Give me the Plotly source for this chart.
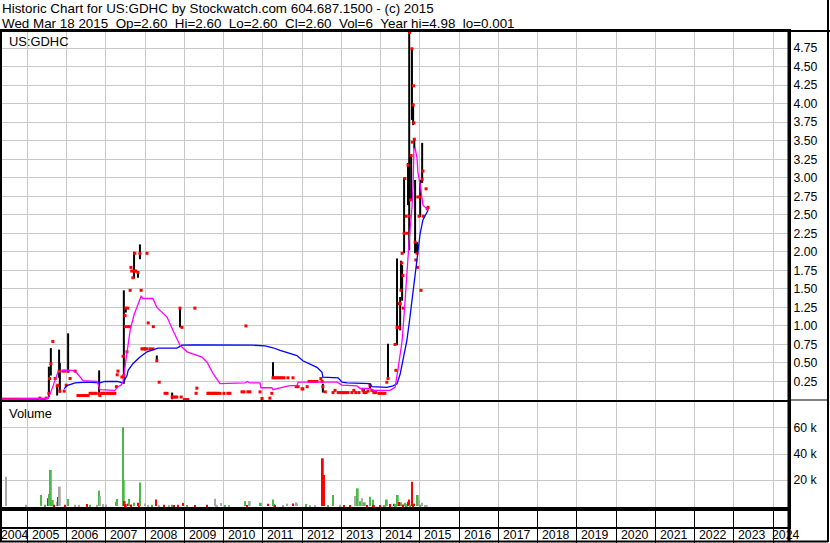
import plotly.graph_objects as go

# ---------------- data (x values are decimal years) ----------------
bar_year = [2005.55, 2005.60, 2005.76, 2005.81, 2005.83, 2006.04, 2006.83, 2007.46, 2007.51,
            2007.72, 2007.82, 2007.87, 2008.00, 2008.30, 2008.69, 2008.89, 2011.26, 2012.53,
            2013.58, 2013.73, 2014.19, 2014.42, 2014.50, 2014.52, 2014.55, 2014.60, 2014.70,
            2014.73, 2014.78, 2014.80, 2014.83, 2014.86, 2014.88, 2014.93, 2015.01, 2015.06]
bar_high = [0.45, 0.70, 0.19, 0.68, 0.50, 0.90, 0.40, 1.48, 1.25,
            2.00, 1.74, 2.10, 0.71, 0.60, 0.10, 1.25, 0.51, 0.22,
            0.15, 0.22, 0.76, 1.91, 1.39, 1.88, 1.82, 3.00, 3.20,
            4.98, 3.30, 4.75, 4.00, 3.52, 2.97, 2.13, 2.97, 3.47]
bar_low = [0.04, 0.33, 0.06, 0.30, 0.10, 0.37, 0.06, 0.22, 1.18,
           1.64, 1.65, 1.90, 0.67, 0.53, 0.01, 0.98, 0.29, 0.10,
           0.08, 0.15, 0.29, 0.74, 0.94, 1.48, 1.34, 1.98, 2.63,
           2.02, 2.70, 3.78, 3.71, 3.39, 1.98, 1.98, 2.47, 2.93]

close_year = [2004.36, 2004.41, 2004.46, 2004.51, 2004.56, 2004.61, 2004.66, 2004.71, 2004.76,
              2004.81, 2004.86, 2004.92, 2004.97, 2005.02, 2005.07, 2005.12, 2005.17, 2005.22,
              2005.27, 2005.32, 2005.37, 2005.43, 2005.48,
              2005.55, 2005.57, 2005.60, 2005.65, 2005.71, 2005.76, 2005.78, 2005.81, 2005.83,
              2005.91, 2005.94, 2005.96, 2005.99, 2006.04, 2006.09, 2006.22,
              2006.29, 2006.32, 2006.35, 2006.39, 2006.42, 2006.46, 2006.50, 2006.55, 2006.60,
              2006.65, 2006.70, 2006.75, 2006.83, 2006.85, 2006.90, 2006.93, 2006.97, 2007.03,
              2007.06, 2007.10, 2007.13, 2007.17, 2007.20, 2007.23,
              2007.27, 2007.29, 2007.31, 2007.41, 2007.44, 2007.46, 2007.49, 2007.50, 2007.51,
              2007.54, 2007.56, 2007.57, 2007.61, 2007.62, 2007.64, 2007.66, 2007.69, 2007.72,
              2007.74, 2007.76, 2007.82, 2007.87, 2007.90, 2007.92, 2007.95, 2008.00, 2008.05,
              2008.05, 2008.08, 2008.13, 2008.20, 2008.21, 2008.30, 2008.36, 2008.51, 2008.56,
              2008.69, 2008.71, 2008.76, 2008.81, 2008.89, 2008.92, 2008.94, 2009.00, 2009.05,
              2009.09, 2009.27, 2009.30, 2009.32,
              2009.60, 2009.63, 2009.66, 2009.71, 2009.74, 2009.78, 2009.81, 2009.86, 2009.91,
              2010.01, 2010.11, 2010.16,
              2010.47, 2010.52, 2010.57, 2010.62, 2010.67, 2010.93, 2010.98, 2011.18, 2011.23,
              2011.26, 2011.29, 2011.34, 2011.39, 2011.44, 2011.49, 2011.54, 2011.64, 2011.77,
              2011.85, 2011.90, 2012.00, 2012.02, 2012.13, 2012.18, 2012.23, 2012.28, 2012.33,
              2012.38, 2012.48, 2012.51, 2012.53, 2012.59, 2012.79, 2012.84, 2012.92, 2012.97,
              2013.02, 2013.07, 2013.12, 2013.17, 2013.27, 2013.32, 2013.37, 2013.45, 2013.55,
              2013.58, 2013.63, 2013.68, 2013.73, 2013.78, 2013.83, 2013.88, 2013.96, 2014.01,
              2014.06, 2014.11, 2014.16, 2014.19,
              2014.37, 2014.39, 2014.42, 2014.47, 2014.48, 2014.50, 2014.52, 2014.54, 2014.55,
              2014.57, 2014.58, 2014.60, 2014.62, 2014.65, 2014.67, 2014.70, 2014.73, 2014.74,
              2014.76, 2014.78, 2014.80, 2014.81, 2014.83, 2014.84, 2014.85, 2014.86, 2014.88,
              2014.90, 2014.93, 2014.94, 2014.95, 2014.98, 2015.01, 2015.03, 2015.06, 2015.08,
              2015.09, 2015.16, 2015.19, 2015.21]
close_price = [0.01, 0.01, 0.01, 0.01, 0.01, 0.01, 0.01, 0.01, 0.01,
               0.01, 0.01, 0.01, 0.01, 0.01, 0.01, 0.01, 0.01, 0.01,
               0.01, 0.025, 0.01, 0.01, 0.025,
               0.09, 0.29, 0.49, 0.79, 0.29, 0.19, 0.20, 0.39, 0.12,
               0.39, 0.12, 0.39, 0.20, 0.39, 0.29, 0.39,
               0.06, 0.06, 0.06, 0.06, 0.06, 0.06, 0.06, 0.06, 0.09,
               0.09, 0.09, 0.09, 0.09, 0.06, 0.09, 0.09, 0.09, 0.09,
               0.09, 0.09, 0.09, 0.09, 0.09, 0.09,
               0.18, 0.34, 0.39, 0.31, 0.59, 0.33, 1.14, 0.99, 1.24,
               0.65, 1.24, 0.99, 0.99, 1.48, 1.79, 1.74, 1.65, 1.74,
               1.98, 1.74, 1.72, 1.98, 1.48, 0.69, 0.69, 0.69, 1.98,
               0.69, 1.04, 0.69, 0.69, 0.99, 0.53, 0.24, 0.09, 0.09,
               0.04, 0.04, 0.04, 0.04, 1.24, 0.04, 0.98, 0.005, 0.005,
               0.005, 1.24, 0.09, 0.16,
               0.09, 0.09, 0.09, 0.09, 0.09, 0.09, 0.09, 0.09, 0.09,
               0.09, 0.09, 0.09,
               0.11, 0.11, 1.00, 0.11, 0.11, 0.11, 0.02, 0.025, 0.09,
               0.30, 0.30, 0.30, 0.30, 0.30, 0.30, 0.30, 0.30, 0.30,
               0.18, 0.18, 0.15, 0.15, 0.18, 0.25, 0.25, 0.25, 0.25,
               0.25, 0.29, 0.25, 0.18, 0.11, 0.10, 0.13, 0.10, 0.10,
               0.10, 0.10, 0.10, 0.10, 0.10, 0.13, 0.10, 0.10, 0.13,
               0.10, 0.10, 0.12, 0.20, 0.13, 0.10, 0.10, 0.09, 0.09,
               0.09, 0.09, 0.24, 0.29,
               0.75, 0.40, 0.98, 0.98, 1.30, 1.30, 1.48, 1.85, 1.98,
               1.68, 1.24, 2.25, 2.99, 2.48, 2.25, 3.17, 2.48, 4.96,
               2.70, 3.30, 4.74, 3.48, 3.98, 4.24, 3.74, 3.52, 2.13,
               1.89, 1.98, 1.79, 2.74, 2.48, 2.74, 1.48, 2.98, 3.09,
               2.48, 2.85, 2.58, 2.60]

ma_short_year = [2004.36, 2005.48, 2005.53, 2005.63, 2005.71, 2005.78, 2005.91, 2006.16, 2006.27,
                 2006.42, 2006.78, 2006.85, 2007.23, 2007.31, 2007.39, 2007.44, 2007.49, 2007.57,
                 2007.62, 2007.72, 2007.79, 2007.90, 2007.95, 2008.20, 2008.30, 2008.43, 2008.56,
                 2008.71, 2008.81, 2008.89, 2009.07, 2009.32, 2009.45, 2009.58, 2009.73, 2009.91,
                 2010.55, 2010.60, 2010.67, 2010.93, 2010.95, 2011.23, 2011.26, 2011.44, 2011.69,
                 2011.87, 2011.90, 2012.89, 2013.02, 2013.40, 2013.48, 2013.73, 2013.81, 2014.24,
                 2014.37, 2014.44, 2014.55, 2014.62, 2014.67, 2014.73, 2014.80, 2014.83, 2014.85,
                 2014.88, 2014.93, 2014.95, 2015.01, 2015.06, 2015.08, 2015.18, 2015.21]
ma_short = [0.01, 0.01, 0.02, 0.15, 0.28, 0.375, 0.40, 0.40, 0.36,
            0.26, 0.25, 0.14, 0.13, 0.18, 0.20, 0.25, 0.45, 0.75,
            0.94, 1.15, 1.25, 1.40, 1.37, 1.37, 1.25, 1.18, 1.12,
            0.94, 0.83, 0.74, 0.65, 0.60, 0.58, 0.51, 0.36, 0.22,
            0.23, 0.25, 0.23, 0.23, 0.165, 0.165, 0.14, 0.165, 0.195,
            0.195, 0.24, 0.24, 0.20, 0.19, 0.155, 0.155, 0.13, 0.13,
            0.17, 0.40, 0.80, 1.30, 1.71, 2.16, 2.60, 2.90, 3.39,
            3.40, 3.26, 3.08, 2.90, 2.72, 2.63, 2.58, 2.56]

ma_long_year = [2005.94, 2006.01, 2006.22, 2006.52, 2006.85, 2006.98, 2007.29, 2007.44, 2007.54,
                2007.57, 2007.69, 2007.87, 2008.05, 2008.20, 2008.33, 2008.81, 2008.94, 2009.22,
                2010.50, 2010.55, 2010.67, 2010.73, 2011.06, 2011.26, 2011.44, 2011.64, 2011.87,
                2012.02, 2012.20, 2012.38, 2012.51, 2012.53, 2012.92, 2013.02, 2013.15, 2013.73,
                2013.78, 2014.16, 2014.32, 2014.42, 2014.50, 2014.57, 2014.67, 2014.75, 2014.83,
                2014.93, 2015.01, 2015.08, 2015.21]
ma_long = [0.15, 0.195, 0.23, 0.24, 0.23, 0.25, 0.25, 0.23, 0.33,
           0.40, 0.49, 0.58, 0.65, 0.68, 0.70, 0.70, 0.74, 0.745,
           0.745, 0.75, 0.75, 0.74, 0.73, 0.705, 0.67, 0.64, 0.60,
           0.53, 0.49, 0.44, 0.375, 0.31, 0.30, 0.24, 0.23, 0.22,
           0.18, 0.17, 0.19, 0.22, 0.35, 0.53, 0.80, 1.12, 1.48,
           1.93, 2.25, 2.43, 2.56]

vol_year = [2004.46, 2004.97, 2005.35, 2005.45, 2005.54, 2005.56, 2005.60, 2005.65, 2005.68,
            2005.76, 2005.78, 2005.83, 2005.96, 2006.04, 2006.22, 2006.32, 2006.52, 2006.60,
            2006.78, 2006.83, 2006.85, 2006.93, 2007.01, 2007.26, 2007.29, 2007.44, 2007.46,
            2007.48, 2007.51, 2007.57, 2007.59, 2007.64, 2007.72, 2007.82, 2007.85, 2007.87,
            2008.00, 2008.08, 2008.18, 2008.28, 2008.36, 2008.48, 2008.61, 2008.69, 2008.74,
            2008.84, 2008.97, 2009.07, 2009.27, 2009.58, 2009.78, 2009.83, 2009.94, 2010.04,
            2010.14, 2010.55, 2010.60, 2010.67, 2010.95, 2011.13, 2011.26, 2011.29, 2011.31,
            2011.52, 2011.62, 2011.77, 2011.85, 2011.87, 2012.10, 2012.20, 2012.33, 2012.53,
            2012.56, 2012.66, 2012.79, 2012.97, 2013.07, 2013.22, 2013.37, 2013.42, 2013.48,
            2013.53, 2013.60, 2013.66, 2013.73, 2013.81, 2013.83, 2013.99, 2014.11, 2014.16,
            2014.24, 2014.34, 2014.39, 2014.44, 2014.47, 2014.52, 2014.57, 2014.62, 2014.67,
            2014.70, 2014.73, 2014.75, 2014.80, 2014.83, 2014.85, 2014.95, 2014.98, 2015.01,
            2015.06, 2015.14, 2015.18]
vol_value = [22500, 1000, 8500, 1000, 6000, 9200, 27700, 4600, 1000,
             3300, 7000, 14900, 1000, 5400, 1000, 1000, 1500, 1000,
             1000, 11800, 7700, 1500, 1200, 3300, 5400, 60500, 20000,
             3800, 1500, 1800, 5400, 1200, 2500, 2500, 1000, 18000,
             2000, 800, 1000, 5100, 800, 1000, 800, 1000, 800,
             1000, 2300, 800, 600, 1000, 5600, 1000, 2300, 800,
             600, 3800, 800, 3800, 2500, 1800, 5000, 1500, 800,
             600, 1800, 2000, 2800, 2000, 1500, 800, 600, 36700,
             23800, 800, 8500, 1000, 600, 800, 7700, 13600, 3600,
             5900, 2800, 800, 7200, 4800, 800, 600, 800, 5000,
             1500, 1800, 1500, 8500, 3000, 2800, 1200, 2500, 1500,
             3300, 5000, 1200, 18700, 1500, 1800, 8500, 5000, 1000,
             2500, 800, 800]
vol_dir = ['n', 'n', 'g', 'g', 'r', 'g', 'g', 'g', 'r',
           'n', 'r', 'n', 'r', 'g', 'n', 'n', 'r', 'g',
           'n', 'g', 'n', 'n', 'n', 'g', 'g', 'g', 'g',
           'r', 'r', 'r', 'g', 'r', 'g', 'r', 'r', 'g',
           'n', 'n', 'g', 'r', 'n', 'r', 'n', 'g', 'r',
           'r', 'r', 'g', 'r', 'r', 'n', 'n', 'n', 'g',
           'n', 'g', 'r', 'n', 'g', 'r', 'g', 'g', 'r',
           'n', 'n', 'r', 'n', 'n', 'g', 'n', 'n', 'r',
           'r', 'g', 'g', 'n', 'r', 'r', 'n', 'g', 'g',
           'n', 'g', 'r', 'g', 'g', 'r', 'r', 'g', 'g',
           'r', 'r', 'g', 'g', 'r', 'g', 'r', 'g', 'g',
           'r', 'r', 'g', 'r', 'r', 'r', 'g', 'n', 'g',
           'n', 'n', 'n']

year_labels = [str(y) for y in range(2004, 2025)]
year_label_pos = [2004.3555, 2005.09, 2006.09, 2007.09, 2008.09, 2009.09, 2010.09, 2011.09,
                  2012.09, 2013.09, 2014.09, 2015.09, 2016.09, 2017.09, 2018.09, 2019.09,
                  2020.09, 2021.09, 2022.09, 2023.09, 2023.94]
price_ticks = [0.25, 0.5, 0.75, 1.0, 1.25, 1.5, 1.75, 2.0, 2.25, 2.5, 2.75, 3.0, 3.25, 3.5,
               3.75, 4.0, 4.25, 4.5, 4.75]
vol_ticks = [20000, 40000, 60000]
vol_tick_text = ['20 k', '40 k', '60 k']

title1 = "Historic Chart for US:GDHC by Stockwatch.com 604.687.1500 - (c) 2015"
title2 = ("Wed Mar 18 2015 \u00a0Op=2.60 \u00a0Hi=2.60 \u00a0Lo=2.60 \u00a0Cl=2.60 \u00a0Vol=6 "
          "\u00a0Year hi=4.98 \u00a0lo=0.001")

# ---------------- styling ----------------
FONT = "Liberation Sans, Arial, sans-serif"
GRID = "#c8c8c8"
DIR_COLORS = {'g': '#4cb848', 'r': '#ff0000', 'n': '#a8a8a8'}
X_RANGE = [2004.3555, 2024.4065]

fig = go.Figure()

fig.add_trace(go.Ohlc(
    x=bar_year, open=bar_low, high=bar_high, low=bar_low, close=bar_high,
    increasing=dict(line=dict(color='black', width=2)),
    decreasing=dict(line=dict(color='black', width=2)),
    tickwidth=0, xaxis='x', yaxis='y', hoverinfo='skip', showlegend=False))

fig.add_trace(go.Scatter(
    x=close_year, y=close_price, mode='markers',
    marker=dict(symbol='square', size=3, color='#ff0000', line=dict(width=0)),
    xaxis='x', yaxis='y', hoverinfo='skip', showlegend=False))

fig.add_trace(go.Scatter(
    x=ma_long_year, y=ma_long, mode='lines', line=dict(color='#0000ff', width=1.3),
    xaxis='x', yaxis='y', hoverinfo='skip', showlegend=False))

fig.add_trace(go.Scatter(
    x=ma_short_year, y=ma_short, mode='lines', line=dict(color='#ff00ff', width=1.3),
    xaxis='x', yaxis='y', hoverinfo='skip', showlegend=False))

fig.add_trace(go.Bar(
    x=vol_year, y=vol_value, width=0.045,
    marker=dict(color=[DIR_COLORS[d] for d in vol_dir], line=dict(width=0)),
    xaxis='x2', yaxis='y2', hoverinfo='skip', showlegend=False))

# empty trace so the date-strip subplot exists
fig.add_trace(go.Scatter(x=[], y=[], xaxis='x3', yaxis='y3', hoverinfo='skip', showlegend=False))

axis_common = dict(range=X_RANGE, tick0=2004, dtick=1, showgrid=True, gridcolor=GRID,
                   gridwidth=1, showticklabels=False, ticks='', zeroline=False,
                   showline=True, linecolor='black', linewidth=2, mirror=True,
                   automargin=False)

fig.update_layout(
    template='none',
    width=830, height=543,
    margin=dict(l=2, r=41, t=31, b=16, autoexpand=False),
    paper_bgcolor='white', plot_bgcolor='white',
    font=dict(family=FONT, size=12, color='black'),
    showlegend=False,
    xaxis=dict(domain=[0, 1], anchor='y', rangeslider=dict(visible=False), **axis_common),
    yaxis=dict(domain=[0.25605, 1], anchor='x', range=[0, 4.98], side='right', tickmode='array',
               tickvals=price_ticks, tickformat='.2f', showgrid=True, gridcolor=GRID,
               zeroline=False, showline=True, linecolor='black', linewidth=2, mirror=True,
               ticks='', automargin=False,
               tickfont=dict(size=12.3, family=FONT, color='black')),
    xaxis2=dict(domain=[0, 1], anchor='y2', **axis_common),
    yaxis2=dict(domain=[0.03629, 0.25202], anchor='x2', range=[-2300, 80000], side='right',
                tickmode='array', tickvals=vol_ticks, ticktext=vol_tick_text,
                showgrid=True, gridcolor=GRID, zeroline=False, showline=True,
                linecolor='black', linewidth=2, mirror=True, ticks='', automargin=False,
                tickfont=dict(size=12.3, family=FONT, color='black')),
    xaxis3=dict(domain=[0, 1], anchor='y3', range=X_RANGE, tick0=2004, dtick=1,
                showgrid=True, gridcolor='black', gridwidth=1, zeroline=False,
                showline=True, linecolor='black', linewidth=2, mirror=True, automargin=False,
                showticklabels=False, ticks='outside', ticklen=14, tickcolor='black',
                tickwidth=1),
    yaxis3=dict(domain=[0, 0.03629], anchor='x3', range=[0, 1], showgrid=False,
                zeroline=False, showticklabels=False, showline=True, linecolor='black',
                linewidth=2, mirror=True, ticks='', automargin=False),
)


# frame decoration (paper coordinates)
def px_x(p):
    return (p - 2) / 787.0


def px_y(p):
    return (527 - p) / 496.0


shapes = [
    dict(type='line', xref='paper', yref='paper', x0=px_x(0), x1=px_x(830), y0=px_y(31), y1=px_y(31),
         line=dict(color='black', width=2)),
    dict(type='line', xref='paper', yref='paper', x0=px_x(0), x1=px_x(828), y0=px_y(541.5), y1=px_y(541.5),
         line=dict(color='black', width=2)),
    dict(type='line', xref='paper', yref='paper', x0=px_x(1), x1=px_x(1), y0=px_y(31), y1=px_y(542),
         line=dict(color='black', width=2)),
    dict(type='line', xref='paper', yref='paper', x0=1, x1=1, y0=px_y(31), y1=px_y(542),
         line=dict(color='black', width=3)),
    dict(type='line', xref='paper', yref='paper', x0=px_x(828), x1=px_x(828), y0=px_y(0), y1=px_y(542),
         line=dict(color='black', width=2)),
    dict(type='line', xref='paper', yref='paper', x0=1, x1=px_x(828), y0=px_y(400), y1=px_y(400),
         line=dict(color='black', width=1)),
]
fig.update_layout(shapes=shapes)

annotations = [
    dict(text=title1, x=px_x(1), y=px_y(8.5), xanchor='left', yanchor='middle'),
    dict(text=title2, x=px_x(1), y=px_y(23.5), xanchor='left', yanchor='middle'),
]
for a in annotations:
    a.update(xref='paper', yref='paper', showarrow=False, borderpad=0,
             font=dict(size=13.4, family=FONT, color='black'))
annotations += [
    dict(text='US:GDHC', x=px_x(8), y=px_y(41.5), xref='paper', yref='paper', showarrow=False,
         xanchor='left', yanchor='middle', borderpad=0, font=dict(size=12.9, family=FONT, color='black')),
    dict(text='Volume', x=px_x(8), y=px_y(413.5), xref='paper', yref='paper', showarrow=False,
         xanchor='left', yanchor='middle', borderpad=0, font=dict(size=12.9, family=FONT, color='black')),
]
for pos, lab in zip(year_label_pos, year_labels):
    annotations.append(dict(text=lab, x=pos, xref='x3', y=px_y(534.5), yref='paper',
                            showarrow=False, xanchor='left', yanchor='middle', borderpad=0,
                            xshift=-2 if lab == '2004' else 0,
                            font=dict(size=12.3, family=FONT, color='black')))
fig.update_layout(annotations=annotations)

fig.write_html("out.html", config={'displayModeBar': False},
               post_script="document.body.style.margin='0';document.body.style.padding='0';")
